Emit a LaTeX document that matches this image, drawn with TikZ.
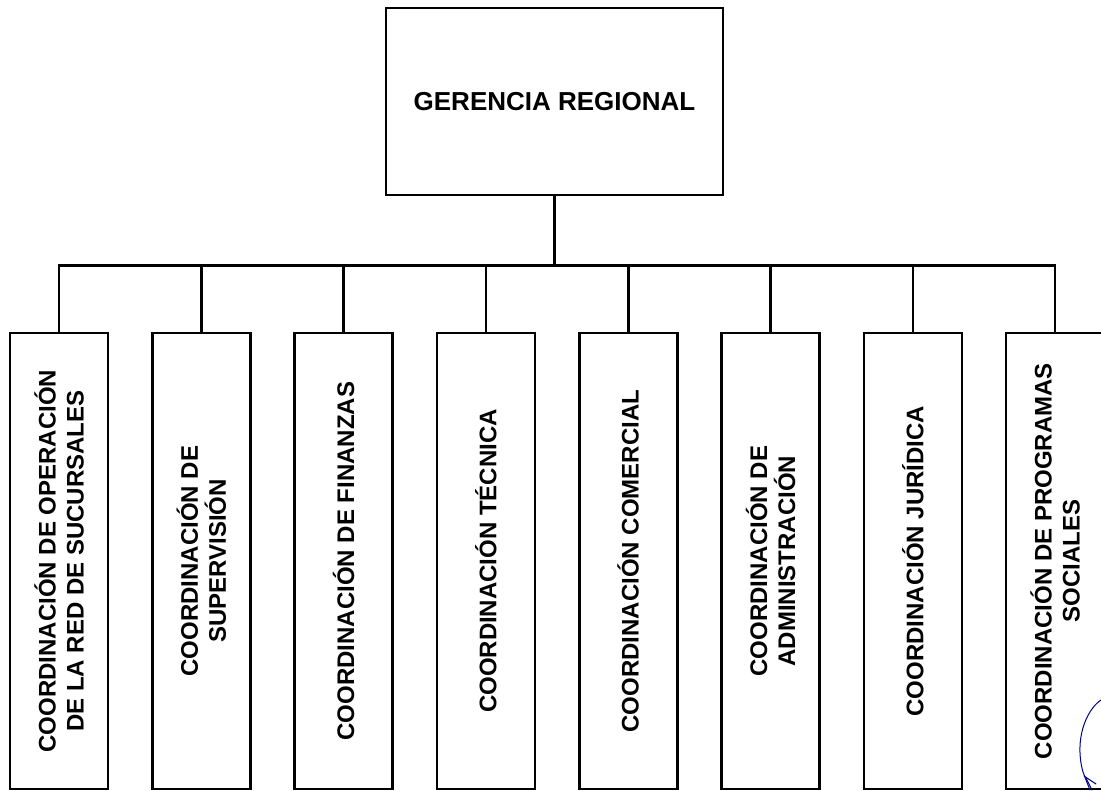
\documentclass[tikz,border=0pt]{standalone}
\usepackage{fontspec}
\setmainfont{Liberation Sans}
\begin{document}
\begin{tikzpicture}[x=1pt,y=-1pt,
  line width=2.6pt,
  headbox/.style={draw, line width=2.6pt, minimum width=337pt, minimum height=187pt,
    inner sep=0pt, font=\bfseries\fontsize{26}{30}\selectfont},
  unitbox/.style={draw, line width=2.6pt, minimum width=98pt, minimum height=456pt, inner sep=0pt},
  unitlabel/.style={rotate=90, align=center, inner sep=0pt,
    font=\bfseries\fontsize{24}{28}\selectfont},
  link/.style={draw, line width=2.6pt},
  sig/.style={draw=blue!55!black, line width=1pt, line cap=round}]
\useasboundingbox (0,0) rectangle (1101,791);

% head of the organisation
\node[headbox] (g) at (554.5,101.5) {GERENCIA REGIONAL};

% coordination units
\node[unitbox] (c1) at (59,561) {};
\node[unitbox] (c2) at (201.3,561) {};
\node[unitbox] (c3) at (343.6,561) {};
\node[unitbox] (c4) at (485.9,561) {};
\node[unitbox] (c5) at (628.2,561) {};
\node[unitbox] (c6) at (770.5,561) {};
\node[unitbox] (c7) at (912.8,561) {};
\node[unitbox] (c8) at (1055.1,561) {};

\node[unitlabel] (t1) at (c1.center) {COORDINACIÓN DE OPERACIÓN\\DE LA RED DE SUCURSALES};
\node[unitlabel] (t2) at (c2.center) {COORDINACIÓN DE\\SUPERVISIÓN};
\node[unitlabel] (t3) at (c3.center) {COORDINACIÓN DE FINANZAS};
\node[unitlabel] (t4) at (c4.center) {COORDINACIÓN TÉCNICA};
\node[unitlabel] (t5) at (c5.center) {COORDINACIÓN COMERCIAL};
\node[unitlabel] (t6) at (c6.center) {COORDINACIÓN DE\\ADMINISTRACIÓN};
\node[unitlabel] (t7) at (c7.center) {COORDINACIÓN JURÍDICA};
\node[unitlabel] (t8) at (c8.center) {COORDINACIÓN DE PROGRAMAS\\SOCIALES};

% connectors
\draw[link] (g.south) -- ++(0,69) coordinate (j);
\draw[link] (c1.north) -- (c1.north |- j) -- (c8.north |- j) -- (c8.north);
\foreach \k in {2,...,7} {
  \draw[link] (c\k.north) -- (c\k.north |- j);
}

% handwritten mark
\draw[sig] (1101,700) .. controls (1086,710) and (1074,740) .. (1083,772)
  .. controls (1086,780) .. (1090,790);
\draw[sig] (1084,776) -- (1096,784);
\draw[sig] (1086,778) -- (1092,790);
\end{tikzpicture}
\end{document}
